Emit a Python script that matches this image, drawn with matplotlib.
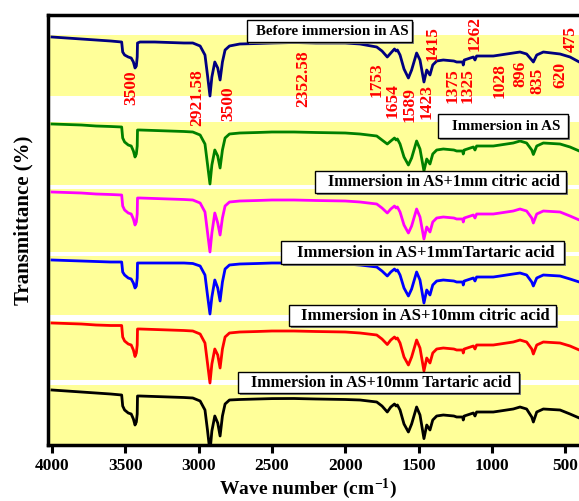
import matplotlib
matplotlib.use("Agg")
import matplotlib.pyplot as plt
from matplotlib.patches import Rectangle
import numpy as np

plt.rcParams['font.family'] = ['Liberation Serif', 'DejaVu Serif']
plt.rcParams['font.weight'] = 'bold'
plt.rcParams['mathtext.fontset'] = 'custom'
plt.rcParams['mathtext.rm'] = 'Liberation Serif:bold'
plt.rcParams['mathtext.default'] = 'regular'

# ---------------- data ----------------
wavenumber = [4000, 3900, 3800, 3700, 3600, 3525, 3518, 3505, 3480, 3460,
              3445, 3434, 3425, 3419, 3417, 3400, 3300, 3200, 3100, 3040,
              2990, 2957, 2940, 2923, 2910, 2890, 2870, 2854, 2838, 2820,
              2790, 2720, 2600, 2500, 2350, 2200, 2000, 1900, 1786, 1750,
              1714, 1690, 1665, 1654, 1645, 1627, 1600, 1570, 1548, 1514,
              1491, 1464, 1445, 1423, 1404, 1377, 1332, 1260, 1241, 1200,
              1196, 1189, 1127, 1116, 1105, 991, 945, 855, 809, 764,
              729, 718, 695, 650, 536, 468, 405]

# transmittance drop (a.u.) from the 4000 cm-1 level for each sample
before_drop = [0, 1, 2, 3, 4, 5, 15, 18, 20, 21,
               25, 31, 29, 20, 6, 5, 5, 5.5, 6, 6,
               9, 18, 38, 59, 40, 25, 31, 43, 25, 13,
               9, 7, 6.5, 6, 5.5, 6, 6, 7, 10, 14,
               20, 16, 12, 14, 13, 18, 32, 41, 33, 16,
               23, 45, 33, 38, 28, 24, 23, 24, 25, 25,
               28, 23, 20, 23, 19, 19, 18, 16, 15, 17,
               23, 25, 18, 15, 17, 20, 25]
as_drop = [0, 0.5, 1, 2, 2.5, 3, 14, 18, 21, 22,
           27, 33, 30, 22, 6, 6, 6.5, 7, 7.5, 8,
           11, 20, 40, 60, 41, 26, 32, 44, 26, 14,
           10, 9, 8.5, 8, 8, 8.5, 9, 10, 12, 16,
           20, 17, 14, 16, 15, 20, 33, 41, 34, 17,
           25, 47, 35, 40, 30, 26, 25, 26, 27, 27,
           30, 26, 23, 26, 22, 22, 21, 19, 17, 19,
           26, 30.5, 22, 19, 20, 23, 27]
citric1_drop = [0, 0.5, 1, 2, 2.5, 3, 14, 18, 21, 22,
                27, 33, 30, 22, 6, 6, 6.5, 7, 7.5, 8,
                11, 20, 40, 60, 41, 21, 31, 43, 26, 14,
                10, 9, 8.5, 8, 8, 8.5, 9, 10, 12, 16,
                21, 17, 14, 16, 15, 20, 33, 41, 34, 17,
                25, 47, 35, 40, 30, 26, 25, 26, 27, 27,
                30, 26, 23, 26, 22, 22, 21, 19, 17, 19,
                26, 31, 22, 19, 20, 24, 28]
tartaric1_drop = [0, 0.5, 1, 1.5, 2, 2, 12, 15, 18, 19,
                  23, 28, 26, 18, 3, 3, 3, 3, 3, 3.5,
                  6, 15, 35, 54, 37, 20, 28, 41, 22, 9,
                  5, 4, 3.5, 3, 3, 3.5, 4, 5, 7, 11,
                  16, 12, 9, 11, 10, 15, 28, 36, 29, 12,
                  20, 43, 30, 35, 25, 21, 20, 21, 22, 22,
                  25, 21, 18, 21, 17, 17, 16, 14, 13, 15,
                  22, 26, 18, 15, 16, 19, 22]
citric10_drop = [0, 0.5, 1, 2, 2.5, 2.5, 14, 18, 21, 22,
                 27, 33.5, 30, 22, 6, 6, 6.5, 7, 7.5, 8,
                 11, 20, 40, 60, 41, 26, 32, 45, 26, 14,
                 10, 9, 8.5, 8, 8, 8.5, 9, 10, 12, 16,
                 21.5, 17, 14, 16, 15, 20, 34, 42, 34, 17,
                 25, 48, 35, 40, 30, 26, 25, 26, 27, 27,
                 30, 26, 23, 26, 22, 22, 21, 19, 17, 19,
                 26, 31, 22, 19, 20, 23, 27]
tartaric10_drop = [0, 1, 2, 3, 4, 5, 16, 20, 23, 24,
                   29, 35, 32, 24, 6, 6, 6.5, 7, 7.5, 8,
                   11, 20, 40, 62, 41, 26, 33, 46, 26, 14,
                   10, 9.5, 9, 8.6, 8.5, 9, 9.5, 10, 12, 16,
                   22, 17, 14, 16, 15, 20, 34, 42, 34, 17,
                   25, 48.6, 35, 40, 30, 26, 25, 26, 27, 27,
                   30, 26, 23, 26, 22, 22, 21, 19, 17, 19,
                   27, 32, 22, 19, 20, 24, 28]

series_labels = ["Before immersion in AS", "Immersion in AS",
                 "Immersion in AS+1mm citric acid", "Immersion in AS+1mmTartaric acid",
                 "Immersion in AS+10mm citric acid", "Immersion in AS+10mm Tartaric acid"]
series_drops = [before_drop, as_drop, citric1_drop, tartaric1_drop, citric10_drop, tartaric10_drop]

peak_labels = ["3500", "2921.58", "3500", "2352.58", "1753", "1654", "1589", "1423",
               "1415", "1375", "1325", "1262", "1028", "896", "835", "620", "475"]

xtick_values = [4000, 3500, 3000, 2500, 2000, 1500, 1000, 500]

# ---------------- layout / style ----------------
W, H = 579, 501
AX_L, AX_R, AX_T, AX_B = 48, 579, 15, 445
colors = ['#000080', '#008000', '#ff00ff', '#0000ff', '#ff0000', '#000000']
offsets = [308, 221, 153, 85, 22, -45]
yellow = '#ffff99'
bands = [(35, 96), (122, 185), (189, 252), (256, 315), (321, 380), (385, 446)]

fig = plt.figure(figsize=(W / 100, H / 100), dpi=100)
ax = fig.add_axes([AX_L / W, 1 - AX_B / H, (AX_R - AX_L) / W, (AX_B - AX_T) / H])

def px_to_wn(x):
    return 4000 - (x - 52) / 0.146667

ax.set_xlim(px_to_wn(AX_L), px_to_wn(AX_R))
ax.set_ylim(0, AX_B - AX_T)

for r0, r1 in bands:
    ax.axhspan(AX_B - r1, AX_B - r0, color=yellow, lw=0, zorder=0)

wn = np.array(wavenumber)
for drop, c, off in zip(series_drops, colors, offsets):
    ax.plot(wn, 100 - np.array(drop) + off, color=c, lw=2.0,
            solid_joinstyle='round', zorder=3)

# peak annotations (pixel centre positions in reference)
peak_pos = [(131, 88), (197, 97.5), (228, 103.5), (303, 79), (377, 79.5), (393, 100.5),
            (410, 104), (427, 101.5), (433, 43.5), (453, 85.5), (468, 85.5), (475, 33.5),
            (500, 80), (520, 73.5), (537, 80.5), (560, 75), (571, 39)]
for lab, (px, py) in zip(peak_labels, peak_pos):
    ax.text(px_to_wn(px), AX_B - py, lab, rotation=90, color='red', fontsize=12.5,
            fontweight='bold', ha='center', va='center', zorder=5, clip_on=False)

# label boxes (pixel boxes in reference: x0, x1, y0, y1) and font sizes
boxes = [(247, 412, 20, 42), (438, 568, 114, 138), (315, 566, 171, 193),
         (281, 564, 241, 264), (289, 556, 305, 326), (238, 519, 372, 393)]
box_fs = [10.8, 10.8, 11.5, 12, 12, 11.5]

def fx(x):
    return x / W

def fy(y):
    return 1 - y / H

for lab, (x0, x1, y0, y1), fs in zip(series_labels, boxes, box_fs):
    shadow = Rectangle((fx(x0 + 2), fy(y1 + 2)), fx(x1 - x0), (y1 - y0) / H,
                       transform=fig.transFigure, facecolor='#808080', edgecolor='none', zorder=6)
    box = Rectangle((fx(x0), fy(y1)), fx(x1 - x0), (y1 - y0) / H,
                    transform=fig.transFigure, facecolor='white', edgecolor='black',
                    lw=1.0, zorder=7)
    fig.patches.extend([shadow, box])
    fig.text(fx((x0 + x1) / 2 + 3), fy((y0 + y1) / 2 + 0.5), lab, ha='center', va='center',
             fontsize=fs, fontweight='bold', zorder=8)

ax.set_xticks(xtick_values)
ax.set_xticklabels([str(v) for v in xtick_values])
ax.set_yticks([])
ax.tick_params(axis='x', direction='out', length=6, width=2.2, labelsize=12.5, pad=3)
for lbl in ax.get_xticklabels():
    lbl.set_fontweight('bold')
for s in ['left', 'bottom', 'top']:
    ax.spines[s].set_linewidth(2.5)
ax.spines['right'].set_visible(False)

fig.text(23 / W, fy(220), 'Transmittance (%)', rotation=90, ha='center', va='center',
         fontsize=15, fontweight='bold')
fig.text(308 / W, fy(489), 'Wave number (cm$^{-1}$)', ha='center', va='center',
         fontsize=14, fontweight='bold')

fig.savefig('out.png', dpi=100)
